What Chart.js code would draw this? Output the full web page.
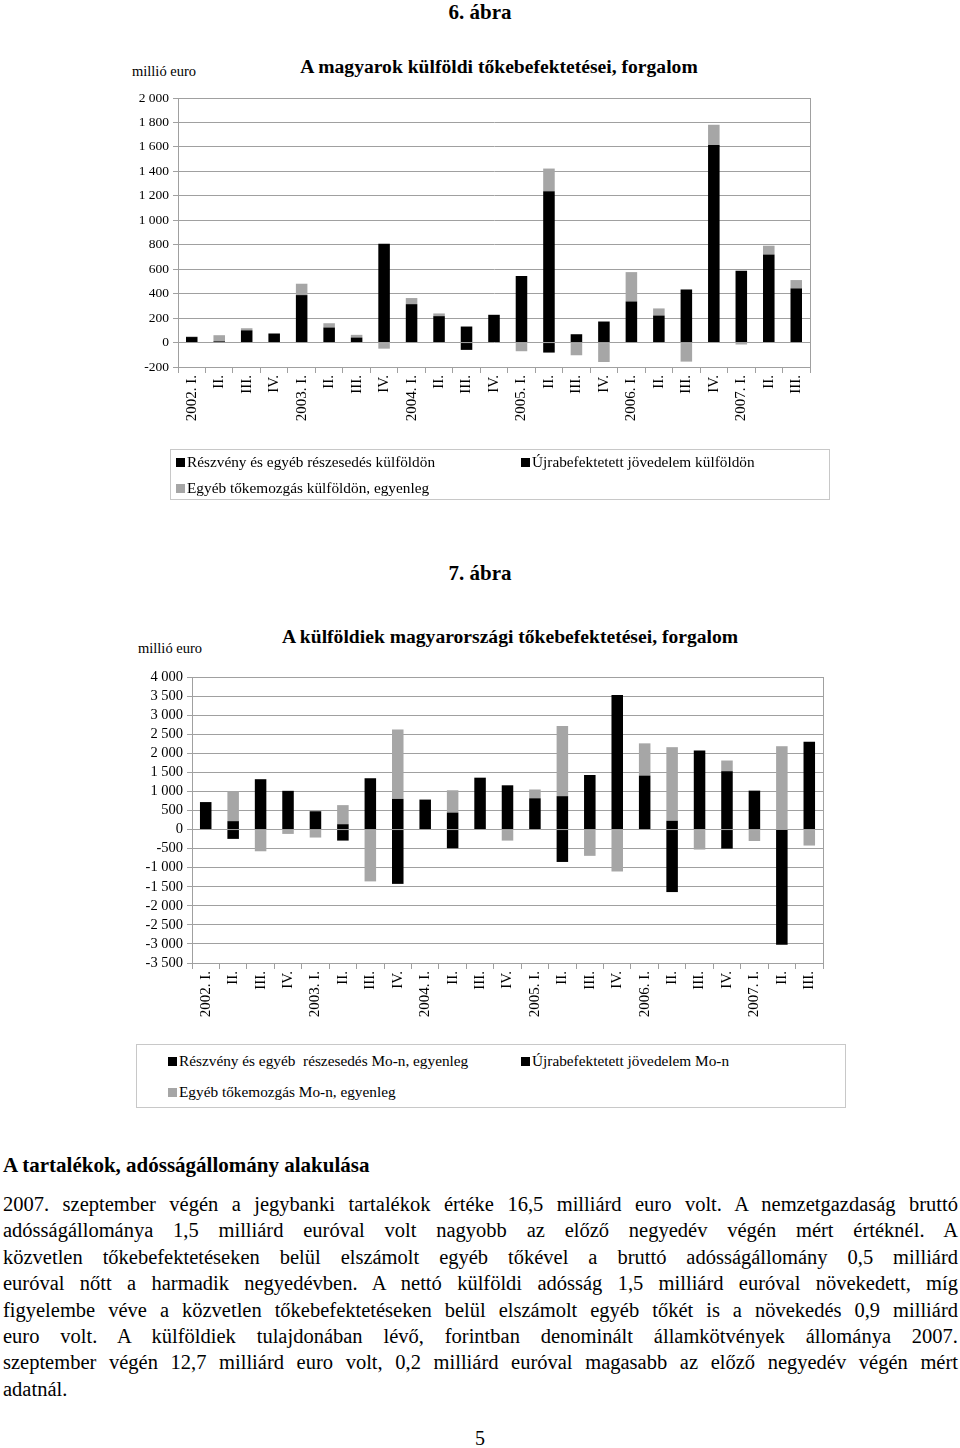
<!DOCTYPE html>
<html lang="hu">
<head>
<meta charset="utf-8">
<script src="https://cdn.jsdelivr.net/npm/chart.js@4.4.0/dist/chart.umd.min.js"></script>
<style>
body{margin:0;width:960px;height:1448px;position:relative;background:#fff;font-family:"Liberation Serif",serif;color:#000;overflow:hidden}
.abs{position:absolute;white-space:nowrap}
.fig{left:0;width:960px;text-align:center;font-weight:bold;font-size:21px;line-height:22px}
.unit{font-size:14.5px;line-height:16px}
.ttl{font-weight:bold;font-size:19.6px;line-height:22px;transform:translateX(-50%)}
canvas{position:absolute}
.legend{position:absolute;border:1px solid #c8c8c8;box-sizing:border-box;font-size:15.3px;font-family:"Liberation Serif",serif}
.legend span{position:absolute;white-space:pre;line-height:16px}
.legend i{display:inline-block;width:9px;height:9px;margin-right:2px}
.para{position:absolute;left:3px;width:955px;font-family:"Liberation Serif",serif;font-size:20.5px;line-height:26.4px}
.para div{text-align:justify;text-align-last:justify}
.para div.last{text-align-last:left}
</style>
</head>
<body>
<script>
var labels = ['2002. I.','II.','III.','IV.','2003. I.','II.','III.','IV.','2004. I.','II.','III.','IV.',
  '2005. I.','II.','III.','IV.','2006. I.','II.','III.','IV.','2007. I.','II.','III.'];

// 6. ábra – magyarok külföldi tőkebefektetései (millió euro)
var reszvenyKulf = [0,0,0,0,0,0,0,0,0,0,-60,0,0,-82,0,0,0,0,0,0,0,0,0];
var ujraKulf     = [45,10,100,74,388,123,41,809,314,216,131,227,544,1238,68,172,336,221,434,1615,587,721,443];
var egyebKulf    = [5,50,17,0,93,35,22,-50,50,22,0,0,-71,185,-104,-159,240,58,-156,166,-16,71,68];
var ticks1 = {min:-200, max:2000, step:200};

// 7. ábra – külföldiek magyarországi tőkebefektetései (millió euro)
var reszvenyMo = [0,-245,0,0,0,-290,0,-1425,0,-490,0,0,0,-850,0,0,0,-1640,0,-500,0,-3020,0];
var ujraMo     = [720,220,1320,1015,480,140,1345,805,780,445,1360,1160,820,875,1430,3530,1415,230,2070,1530,1020,0,2305];
var egyebMo    = [0,785,-570,-115,-210,500,-1360,1815,20,585,0,-290,230,1840,-690,-1100,845,1930,-525,280,-300,2185,-420];
var ticks2 = {min:-3500, max:4000, step:500};

var names1 = ['Részvény és egyéb részesedés külföldön','Újrabefektetett jövedelem külföldön','Egyéb tőkemozgás külföldön, egyenleg'];
var names2 = ['Részvény és egyéb  részesedés Mo-n, egyenleg','Újrabefektetett jövedelem Mo-n','Egyéb tőkemozgás Mo-n, egyenleg'];

var BLACK = '#000000', GREY = '#a6a6a6', GRID = '#a0a0a0';
</script>

<div class="abs fig" style="top:1px">6. ábra</div>
<div class="abs unit" style="left:132px;top:63px">millió euro</div>
<div class="abs ttl" style="left:499px;top:56px">A magyarok külföldi tőkebefektetései, forgalom</div>
<canvas id="c1" width="720" height="375" style="left:120px;top:85px"></canvas>
<div id="l1" class="legend" style="left:170px;top:449px;width:660px;height:51px"></div>

<div class="abs fig" style="top:562px">7. ábra</div>
<div class="abs unit" style="left:138px;top:640px">millió euro</div>
<div class="abs ttl" style="left:510px;top:626px">A külföldiek magyarországi tőkebefektetései, forgalom</div>
<canvas id="c2" width="720" height="368" style="left:120px;top:662px"></canvas>
<div id="l2" class="legend" style="left:136px;top:1044px;width:710px;height:64px"></div>

<div class="abs" style="left:3px;top:1154px;font-weight:bold;font-size:21px;line-height:22px">A tartalékok, adósságállomány alakulása</div>
<div class="para" style="top:1191px">
<div>2007. szeptember végén a jegybanki tartalékok értéke 16,5 milliárd euro volt. A nemzetgazdaság bruttó</div>
<div>adósságállománya 1,5 milliárd euróval volt nagyobb az előző negyedév végén mért értéknél. A</div>
<div>közvetlen tőkebefektetéseken belül elszámolt egyéb tőkével a bruttó adósságállomány 0,5 milliárd</div>
<div>euróval nőtt a harmadik negyedévben. A nettó külföldi adósság 1,5 milliárd euróval növekedett, míg</div>
<div>figyelembe véve a közvetlen tőkebefektetéseken belül elszámolt egyéb tőkét is a növekedés 0,9 milliárd</div>
<div>euro volt. A külföldiek tulajdonában lévő, forintban denominált államkötvények állománya 2007.</div>
<div>szeptember végén 12,7 milliárd euro volt, 0,2 milliárd euróval magasabb az előző negyedév végén mért</div>
<div class="last">adatnál.</div>
</div>
<div class="abs" style="left:0;width:960px;text-align:center;top:1427px;font-size:20px;line-height:22px">5</div>

<script>
function fmt(v) {
  var s = String(Math.abs(v)).replace(/\B(?=(\d{3})+(?!\d))/g, ' ');
  return (v < 0 ? '-' : '') + s;
}

// keret a rajzterület körül
var frame = {
  id: 'frame',
  afterDraw: function(chart) {
    var a = chart.chartArea, ctx = chart.ctx;
    ctx.save();
    ctx.strokeStyle = GRID;
    ctx.lineWidth = 1;
    ctx.strokeRect(Math.round(a.left) + 0.5, Math.round(a.top) + 0.5, Math.round(a.right - a.left), Math.round(a.bottom - a.top));
    ctx.restore();
  }
};

function makeChart(id, names, reszveny, ujra, egyeb, t, yWidth, xHeight, pad, yFont) {
  return new Chart(document.getElementById(id), {
    type: 'bar',
    data: {
      labels: labels,
      datasets: [
        {label: names[0], data: reszveny, backgroundColor: BLACK},
        {label: names[1], data: ujra, backgroundColor: BLACK},
        {label: names[2], data: egyeb, backgroundColor: GREY}
      ]
    },
    options: {
      responsive: false,
      animation: false,
      devicePixelRatio: 1,
      barPercentage: 0.42,
      categoryPercentage: 1,
      layout: {padding: pad},
      plugins: {legend: {display: false}, tooltip: {enabled: false}},
      scales: {
        x: {
          stacked: true,
          offset: true,
          grid: {offset: true, drawOnChartArea: false, drawTicks: true, tickLength: 6, color: GRID},
          border: {color: GRID},
          ticks: {autoSkip: false, maxRotation: 90, minRotation: 90, color: '#000',
                  font: {family: 'Liberation Serif', size: 15}, padding: 2},
          afterFit: function(s) { s.height = xHeight; }
        },
        y: {
          stacked: true,
          min: t.min, max: t.max,
          grid: {color: GRID, tickLength: 5},
          border: {color: GRID},
          ticks: {stepSize: t.step, autoSkip: false, color: '#000', font: {family: 'Liberation Serif', size: yFont},
                  padding: 4, callback: fmt},
          afterFit: function(s) { s.width = yWidth; }
        }
      }
    },
    plugins: [frame]
  });
}

function legend(chart, elId, cols, rows) {
  var box = document.getElementById(elId);
  chart.data.datasets.forEach(function(ds, i) {
    var sp = document.createElement('span');
    var pos = [[cols[0], rows[0]], [cols[1], rows[0]], [cols[0], rows[1]]][i];
    sp.style.left = pos[0] + 'px';
    sp.style.top = pos[1] + 'px';
    var sq = document.createElement('i');
    sq.style.background = ds.backgroundColor;
    sp.appendChild(sq);
    sp.appendChild(document.createTextNode(ds.label));
    box.appendChild(sp);
  });
}

var c1 = makeChart('c1', names1, reszvenyKulf, ujraKulf, egyebKulf, ticks1, 58, 93, {top: 13, right: 30, left: 0, bottom: 0}, 13.5);
var c2 = makeChart('c2', names2, reszvenyMo, ujraMo, egyebMo, ticks2, 72, 67, {top: 15, right: 17, left: 0, bottom: 0}, 14.5);
legend(c1, 'l1', [5, 350], [4, 30]);
legend(c2, 'l2', [31, 384], [8, 39]);
</script>
</body>
</html>
